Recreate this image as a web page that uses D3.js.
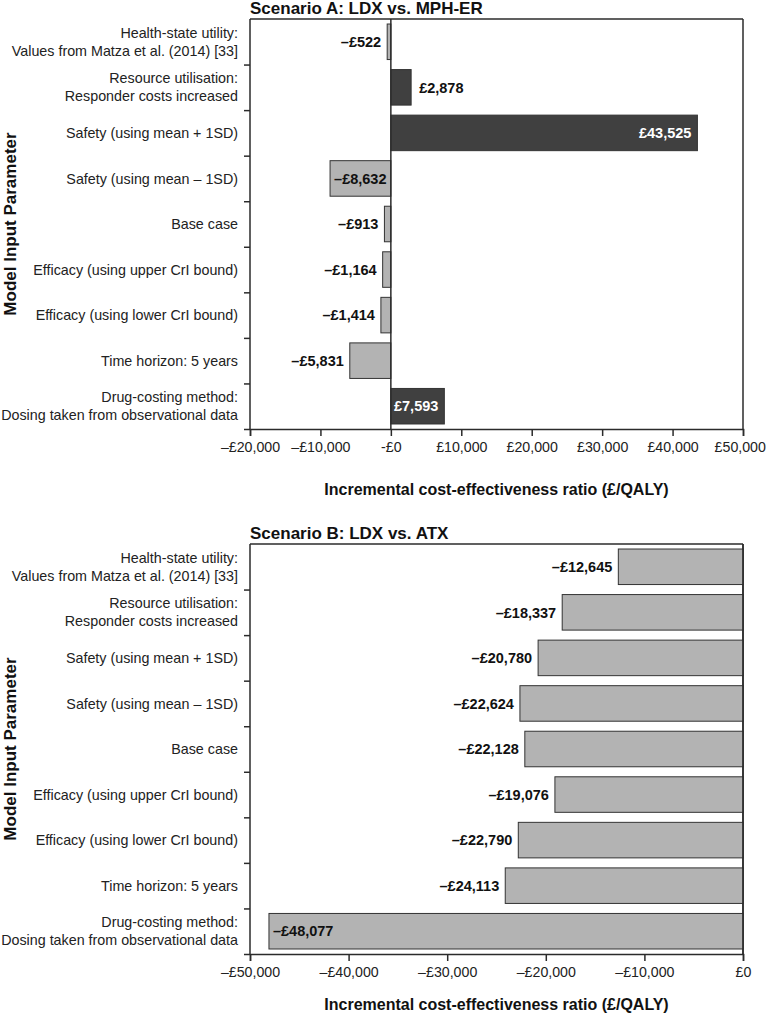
<!DOCTYPE html>
<html><head><meta charset="utf-8">
<script src="https://cdn.jsdelivr.net/npm/d3@7"></script>
<style>
body{margin:0;background:#fff;}
text{font-family:"Liberation Sans",Arial,sans-serif;}
</style></head>
<body><svg id="c" width="767" height="1016"></svg>
<script>
const categories = [
  ["Health-state utility:", "Values from Matza et al. (2014) [33]"],
  ["Resource utilisation:", "Responder costs increased"],
  ["Safety (using mean + 1SD)"],
  ["Safety (using mean \u2013 1SD)"],
  ["Base case"],
  ["Efficacy (using upper CrI bound)"],
  ["Efficacy (using lower CrI bound)"],
  ["Time horizon: 5 years"],
  ["Drug-costing method:", "Dosing taken from observational data"]
];
const valuesA = [-522, 2878, 43525, -8632, -913, -1164, -1414, -5831, 7593];
const valuesB = [-12645, -18337, -20780, -22624, -22128, -19076, -22790, -24113, -48077];
const ticksA = [-20000, -10000, 0, 10000, 20000, 30000, 40000, 50000];
const tickLabelsA = ["\u2013\u00a320,000", "\u2013\u00a310,000", "-\u00a30", "\u00a310,000", "\u00a320,000", "\u00a330,000", "\u00a340,000", "\u00a350,000"];
const ticksB = [-50000, -40000, -30000, -20000, -10000, 0];
const tickLabelsB = ["\u2013\u00a350,000", "\u2013\u00a340,000", "\u2013\u00a330,000", "\u2013\u00a320,000", "\u2013\u00a310,000", "\u00a30"];
const titleA = "Scenario A: LDX vs. MPH-ER";
const titleB = "Scenario B: LDX vs. ATX";
const xTitle = "Incremental cost-effectiveness ratio (\u00a3/QALY)";
const yTitle = "Model Input Parameter";

const svg = d3.select("#c");
const fmt = v => (v < 0 ? "\u2013\u00a3" : "\u00a3") + d3.format(",")(Math.abs(v));

function panel(top, values, domain, ticks, tickLabels, title, insideRule, xTitleOffset) {
  const L = 250, R = 743, T = top, B = top + 410;
  const x = d3.scaleLinear().domain(domain).range([L, R]);
  const idx = d3.range(values.length);
  const y = d3.scaleBand().domain(idx).range([T, B]).paddingInner(0.22).paddingOuter(0.11);
  const g = svg.append("g");
  const ink = "#2b2b2b";

  g.append("text").attr("x", L).attr("y", T - 5).attr("font-size", 17).attr("font-weight", "bold").attr("fill", "#111").text(title);

  g.append("line").attr("x1", L).attr("x2", R).attr("y1", T).attr("y2", T).attr("stroke", ink).attr("stroke-width", 1.5);
  g.append("line").attr("x1", R).attr("x2", R).attr("y1", T).attr("y2", B).attr("stroke", ink).attr("stroke-width", 1.5);

  g.selectAll("rect.bar").data(values).join("rect").attr("class", "bar")
    .attr("x", d => Math.min(x(d), x(0)))
    .attr("width", d => Math.abs(x(d) - x(0)))
    .attr("y", (d, i) => y(i))
    .attr("height", y.bandwidth())
    .attr("fill", d => d > 0 ? "#404040" : "#b3b3b3")
    .attr("stroke", "#333").attr("stroke-width", 1);

  g.append("line").attr("x1", x(0)).attr("x2", x(0)).attr("y1", T).attr("y2", B).attr("stroke", ink).attr("stroke-width", 1.5);

  values.forEach((v, i) => {
    const t = g.append("text").attr("font-size", 14.5).attr("font-weight", "bold")
      .attr("y", y(i) + y.bandwidth() / 2).attr("dy", "0.36em").text(fmt(v));
    const tw = t.node().getComputedTextLength();
    const bw = Math.abs(x(v) - x(0));
    const inside = insideRule(v, bw, tw);
    if (v >= 0) {
      if (inside) t.attr("x", x(v) - 6).attr("text-anchor", "end").attr("fill", "#fff");
      else t.attr("x", x(v) + 8).attr("text-anchor", "start").attr("fill", "#111");
    } else {
      if (inside) t.attr("x", x(v) + 4).attr("text-anchor", "start").attr("fill", "#111");
      else t.attr("x", x(v) - 6).attr("text-anchor", "end").attr("fill", "#111");
    }
  });

  const xa = g.append("g").attr("transform", `translate(0,${B})`)
    .call(d3.axisBottom(x).tickValues(ticks).tickSize(7).tickPadding(6).tickFormat((d, i) => tickLabels[i]));
  xa.select(".domain").attr("stroke", ink).attr("stroke-width", 1.5);
  xa.selectAll(".tick line").attr("stroke", ink).attr("stroke-width", 1.5);
  xa.selectAll(".tick text").attr("font-size", 14.2).attr("fill", "#222").attr("font-family", "Liberation Sans, Arial, sans-serif");
  // keep the rightmost label inside the page
  xa.selectAll(".tick text").each(function () {
    const bb = this.getBBox();
    const tr = this.parentNode.transform.baseVal.consolidate();
    const ox = tr ? tr.matrix.e : 0;
    const over = ox + bb.x + bb.width - 766;
    if (over > 0) d3.select(this).attr("dx", -over);
  });

  const yb = d3.scaleLinear().domain([0, values.length]).range([T, B]);
  const ya = g.append("g").attr("transform", `translate(${L},0)`)
    .call(d3.axisLeft(yb).tickValues(d3.range(1, values.length + 1)).tickSize(6).tickFormat(""));
  ya.select(".domain").attr("stroke", ink).attr("stroke-width", 1.5).attr("d", `M0,${T}V${B}`);
  ya.selectAll(".tick line").attr("stroke", ink).attr("stroke-width", 1.5);

  categories.forEach((c, i) => {
    const cy = y(i) + y.bandwidth() / 2;
    const t = g.append("text").attr("text-anchor", "end").attr("font-size", 14.3).attr("fill", "#222");
    const n = c.length;
    c.forEach((line, k) => {
      t.append("tspan").attr("x", 238).attr("y", cy + (k - (n - 1) / 2) * 18).attr("dy", "0.36em").text(line);
    });
  });

  g.append("text").attr("x", (L + R) / 2).attr("y", B + xTitleOffset).attr("text-anchor", "middle")
    .attr("font-size", 16).attr("font-weight", "bold").attr("fill", "#111").text(xTitle);
  g.append("text").attr("transform", `translate(16,${(T + B) / 2}) rotate(-90)`).attr("text-anchor", "middle")
    .attr("font-size", 17).attr("font-weight", "bold").attr("fill", "#111").text(yTitle);
}

panel(19, valuesA, [-20000, 50000], ticksA, tickLabelsA, titleA, (v, bw, tw) => bw > tw + 4, 66);
panel(544, valuesB, [-50000, 0], ticksB, tickLabelsB, titleB, (v, bw, tw) => bw > 300, 56);
</script></body></html>
